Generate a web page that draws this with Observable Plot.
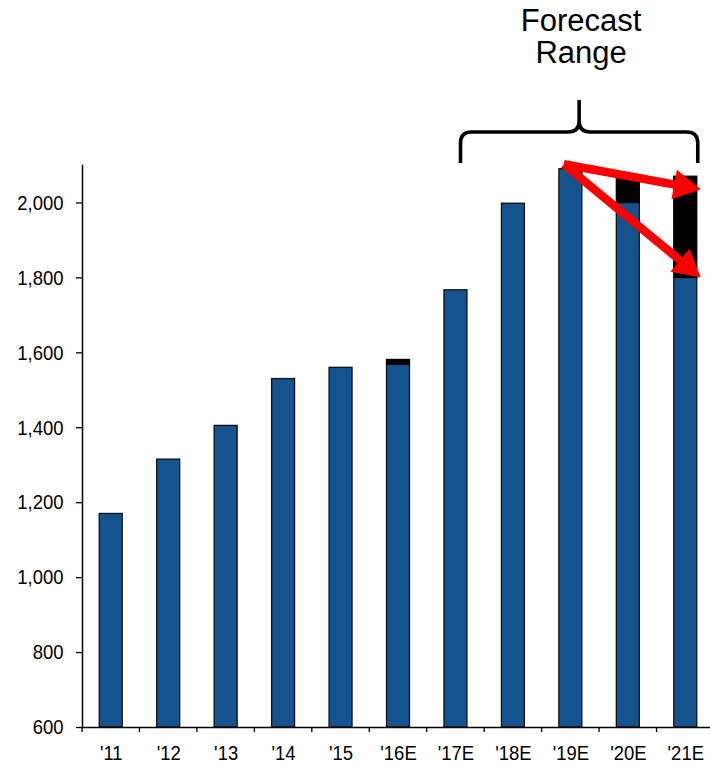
<!DOCTYPE html>
<html>
<head>
<meta charset="utf-8">
<script src="https://cdn.jsdelivr.net/npm/d3@7"></script>
<script src="https://cdn.jsdelivr.net/npm/@observablehq/plot@0.6"></script>
<style>
  html, body { margin: 0; padding: 0; background: #fff; overflow: hidden; }
  #chart svg { display: block; }
</style>
</head>
<body>
<div id="chart"></div>
<script>
// Annual values: actuals through '15, estimates afterwards
const years = ["'11", "'12", "'13", "'14", "'15", "'16E", "'17E", "'18E", "'19E", "'20E", "'21E"];
const baseValues = [1170, 1315, 1405, 1530, 1560, 1568, 1767, 1998, 2090, 2000, 1800];

// Estimate ranges drawn as black caps on top of the blue bars
const rangeYears = ["'16E", "'20E", "'21E"];
const rangeLow = [1568, 2000, 1800];
const rangeHigh = [1581, 2065, 2070];

// Axis ticks
const yTicks = [600, 800, 1000, 1200, 1400, 1600, 1800, 2000];
const yDomain = [600, 2100];

// Forecast bracket: first and last year covered, and its caption
const forecastSpan = ["'17E", "'21E"];
const forecastLabel = ["Forecast", "Range"];

// Red arrows: a common start and two end points
const arrowStart = {year: "'19E", value: 2102};
const arrowEnds = [{year: "'21E", value: 2035}, {year: "'21E", value: 1800}];

const bars = years.map((year, i) => ({year, value: baseValues[i]}));
const ranges = rangeYears.map((year, i) => ({year, low: rangeLow[i], high: rangeHigh[i]}));

const BLUE = "#14538e";
const RED = "#ff0000";
const thousands = d3.format(",");

// Boundary ticks, bracket, caption and arrows, positioned through the plot's scales
function annotations(index, scales, values, dimensions) {
  const {x, y} = scales;
  const step = x.step(), bw = x.bandwidth(), gap = (step - bw) / 2;
  const g = d3.create("svg:g");
  const y0 = y(yDomain[0]);
  const top = y(yDomain[1]);

  // x-axis ticks between the year bands
  const bounds = years.map((yr) => x(yr) - gap).concat([x(years[years.length - 1]) + bw + gap]);
  g.append("g").attr("stroke", "#000").attr("stroke-width", 1.3)
    .selectAll("line").data(bounds).join("line")
    .attr("x1", (d) => d).attr("x2", (d) => d)
    .attr("y1", y0).attr("y2", y0 + 5);

  // curly bracket over the forecast years
  const L = x(forecastSpan[0]) + bw * 0.72;
  const R = x(forecastSpan[1]) + bw + 1;
  const M = (L + R) / 2;
  const yEnd = top - 2, yH = top - 33, yTip = top - 65, r = 11;
  const p = d3.path();
  p.moveTo(L, yEnd); p.lineTo(L, yH + r); p.quadraticCurveTo(L, yH, L + r, yH);
  p.lineTo(M - r, yH); p.quadraticCurveTo(M, yH, M, yH - r); p.lineTo(M, yTip);
  p.moveTo(M, yTip); p.lineTo(M, yH - r); p.quadraticCurveTo(M, yH, M + r, yH);
  p.lineTo(R - r, yH); p.quadraticCurveTo(R, yH, R, yH + r); p.lineTo(R, yEnd);
  g.append("path").attr("d", p.toString())
    .attr("fill", "none").attr("stroke", "#000").attr("stroke-width", 3.6)
    .attr("stroke-linejoin", "round");

  // caption above the bracket
  g.append("text")
    .attr("text-anchor", "middle")
    .attr("font-family", "'Liberation Sans', Arial, sans-serif")
    .attr("font-size", 31).attr("fill", "#000")
    .selectAll("tspan").data(forecastLabel).join("tspan")
    .attr("x", M + 2).attr("y", (d, i) => top - 134 + i * 32)
    .text((d) => d);

  // arrows from the '19E top to the '21E range
  const sx = x(arrowStart.year) + 5, sy = y(arrowStart.value);
  const headLen = 27, headHalf = 15, shaft = 8.5;
  for (const e of arrowEnds) {
    const tx = x(e.year) + bw + 4, ty = y(e.value);
    const dx = tx - sx, dy = ty - sy, len = Math.hypot(dx, dy);
    const ux = dx / len, uy = dy / len, px = -uy, py = ux;
    const bx = tx - ux * headLen, by = ty - uy * headLen;
    g.append("line")
      .attr("x1", sx).attr("y1", sy).attr("x2", bx + ux * 2).attr("y2", by + uy * 2)
      .attr("stroke", RED).attr("stroke-width", shaft);
    g.append("path")
      .attr("d", `M${tx},${ty}L${bx + px * headHalf},${by + py * headHalf}L${bx - px * headHalf},${by - py * headHalf}Z`)
      .attr("fill", RED);
  }
  return g.node();
}

const chart = Plot.plot({
  width: 710,
  height: 765,
  marginTop: 165,
  marginBottom: 38,
  marginLeft: 82,
  marginRight: 0,
  style: {fontFamily: "'Liberation Sans', Arial, sans-serif", background: "#fff", color: "#000"},
  x: {domain: years, range: [82, 714], paddingInner: 0.6, paddingOuter: 0.3, align: 0.5, round: false},
  y: {domain: yDomain},
  marks: [
    Plot.barY(bars, {x: "year", y1: yDomain[0], y2: "value", fill: BLUE, stroke: "#111", strokeWidth: 1.3}),
    Plot.barY(ranges, {x: "year", y1: "low", y2: "high", fill: "#000", stroke: "#000", strokeWidth: 1.3}),
    Plot.frame({anchor: "left", stroke: "#000", strokeWidth: 1.5}),
    Plot.ruleY([yDomain[0]], {stroke: "#000", strokeWidth: 1.5}),
    Plot.axisY({ticks: yTicks, tickFormat: thousands, tickSize: 6, tickPadding: 13, fontSize: 21, label: null, stroke: "#000", strokeWidth: 1.3}),
    Plot.axisX({tickSize: 0, tickPadding: 18, fontSize: 21, label: null}),
    annotations
  ]
});

// slightly condensed tick labels
chart.querySelectorAll('[aria-label="y-axis tick label"] text, [aria-label="x-axis tick label"] text').forEach((t) => {
  const tr = t.getAttribute("transform") || "";
  t.setAttribute("transform", tr + " scale(0.88,1)");
});

document.getElementById("chart").append(chart);
</script>
</body>
</html>
